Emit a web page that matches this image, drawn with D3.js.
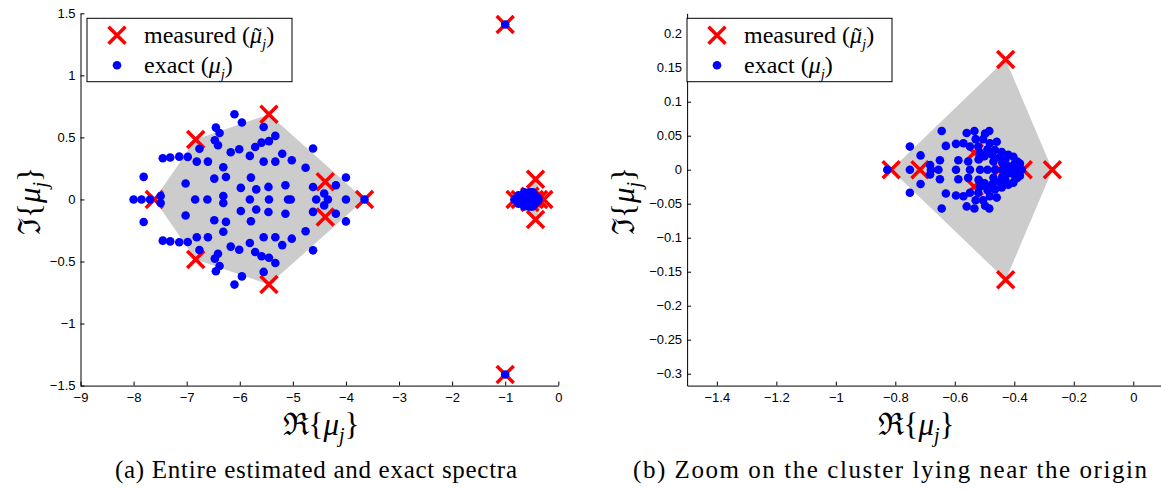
<!DOCTYPE html>
<html lang="en">
<head>
<meta charset="utf-8">
<title>Spectra</title>
<script src="https://d3js.org/d3.v7.min.js"></script>
<style>
  body { margin: 0; background: #fff; }
  .tick text { font-family: "Liberation Sans", Arial, sans-serif; font-size: 13px; fill: #000; }
  .serif { font-family: "Liberation Serif", "Times New Roman", serif; fill: #000; }
</style>
</head>
<body>
<script>

// measured eigenvalues, [re, im]
var measuredFar = [[-5.45, 0.686], [-5.45, -0.686], [-6.83, 0.483], [-6.83, -0.483],
  [-7.61, 0], [-4.39, 0.142], [-4.39, -0.142], [-3.65, 0]];
var measuredOutliers = [[-1.0, 1.41], [-1.0, -1.41]];
var measuredNear = [[-0.814, 0], [-0.717, 0], [-0.429, 0.162], [-0.429, -0.162], [-0.272, 0],
  [-0.37, 0], [-0.535, 0.025], [-0.535, -0.025], [-0.45, 0]];

// exact eigenvalues, [re, im]
var exactFar = [
  [-6.10, 0.686], [-5.96, 0.62], [-5.55, 0.584], [-6.45, 0.579], [-6.38, 0.536], [-6.47, 0.477],
  [-6.41, 0.437], [-6.76, 0.408], [-5.33, 0.512], [-5.45, 0.47], [-5.59, 0.458], [-5.71, 0.423],
  [-5.81, 0.351], [-6.01, 0.405], [-6.17, 0.38], [-5.55, 0.305], [-5.33, 0.305], [-5.20, 0.368],
  [-5.02, 0.316], [-4.76, 0.256], [-4.62, 0.41], [-7.45, 0.332], [-7.31, 0.338], [-7.14, 0.345],
  [-6.98, 0.343], [-6.81, 0.305], [-6.60, 0.305], [-6.31, 0.26], [-6.26, 0.181], [-6.48, 0.168],
  [-7.02, 0.129], [-7.81, 0.182], [-5.79, 0.176], [-5.98, 0.093], [-5.69, 0.081], [-5.46, 0.101],
  [-5.14, 0.115], [-4.62, 0.10], [-4.41, 0.048], [-4.19, 0.115], [-4.0, 0.177], [-7.49, 0.028],
  [-6.31, 0.028],
  [-6.10, -0.686], [-5.96, -0.62], [-5.55, -0.584], [-6.45, -0.579], [-6.38, -0.536], [-6.47, -0.477],
  [-6.41, -0.437], [-6.76, -0.408], [-5.33, -0.512], [-5.45, -0.47], [-5.59, -0.458], [-5.71, -0.423],
  [-5.81, -0.351], [-6.01, -0.405], [-6.17, -0.38], [-5.55, -0.305], [-5.33, -0.305], [-5.20, -0.368],
  [-5.02, -0.316], [-4.76, -0.256], [-4.62, -0.41], [-7.45, -0.332], [-7.31, -0.338], [-7.14, -0.345],
  [-6.98, -0.343], [-6.81, -0.305], [-6.60, -0.305], [-6.31, -0.26], [-6.26, -0.181], [-6.48, -0.168],
  [-7.02, -0.129], [-7.81, -0.182], [-5.79, -0.176], [-5.98, -0.093], [-5.69, -0.081], [-5.46, -0.101],
  [-5.14, -0.115], [-4.62, -0.10], [-4.41, -0.048], [-4.19, -0.115], [-4.0, -0.177], [-7.49, -0.028],
  [-6.31, -0.028],
  [-8.0, 0], [-7.85, 0], [-7.69, 0], [-6.84, 0], [-6.61, 0], [-5.81, 0], [-5.45, 0], [-5.09, 0],
  [-5.04, 0], [-4.56, 0], [-4.34, 0], [-4.0, 0], [-3.65, 0]
];
var exactOutliers = [[-1.0, 1.41], [-1.0, -1.41]];
var exactNear = [
  [-0.751, 0.034], [-0.715, 0.021], [-0.683, 0.007], [-0.65, 0.014], [-0.644, 0.057], [-0.63, 0.035],
  [-0.596, 0.038], [-0.588, 0.014], [-0.571, 0.039], [-0.56, 0.054], [-0.534, 0.057], [-0.549, 0.034],
  [-0.521, 0.034], [-0.555, 0.012], [-0.52, 0.015], [-0.498, 0.053], [-0.484, 0.057], [-0.482, 0.039],
  [-0.465, 0.029], [-0.459, 0.041], [-0.442, 0.026], [-0.42, 0.022], [-0.403, 0.019], [-0.381, 0.009],
  [-0.44, 0.01], [-0.42, 0.005], [-0.50, 0.02], [-0.47, 0.012], [-0.45, 0.018], [-0.53, 0.045],
  [-0.505, 0.045], [-0.49, 0.03], [-0.515, 0.025], [-0.475, 0.022], [-0.43, 0.015], [-0.40, 0.008],
  [-0.39, 0.012],
  [-0.751, -0.034], [-0.715, -0.021], [-0.683, -0.007], [-0.65, -0.014], [-0.644, -0.057], [-0.63, -0.035],
  [-0.596, -0.038], [-0.588, -0.014], [-0.571, -0.039], [-0.56, -0.054], [-0.534, -0.057], [-0.549, -0.034],
  [-0.521, -0.034], [-0.555, -0.012], [-0.52, -0.015], [-0.498, -0.053], [-0.484, -0.057], [-0.482, -0.039],
  [-0.465, -0.029], [-0.459, -0.041], [-0.442, -0.026], [-0.42, -0.022], [-0.403, -0.019], [-0.381, -0.009],
  [-0.44, -0.01], [-0.42, -0.005], [-0.50, -0.02], [-0.47, -0.012], [-0.45, -0.018], [-0.53, -0.045],
  [-0.505, -0.045], [-0.49, -0.03], [-0.515, -0.025], [-0.475, -0.022], [-0.43, -0.015], [-0.40, -0.008],
  [-0.39, -0.012],
  [-0.827, 0], [-0.751, 0], [-0.68, 0], [-0.655, 0], [-0.596, 0], [-0.549, 0], [-0.515, 0], [-0.49, 0],
  [-0.465, 0], [-0.44, 0], [-0.41, 0], [-0.39, 0], [-0.375, 0]
];

// tick values
var ticksAx = [-9, -8, -7, -6, -5, -4, -3, -2, -1, 0];
var ticksAy = [-1.5, -1, -0.5, 0, 0.5, 1, 1.5];
var ticksBx = [-1.4, -1.2, -1, -0.8, -0.6, -0.4, -0.2, 0];
var ticksBy = [-0.3, -0.25, -0.2, -0.15, -0.1, -0.05, 0, 0.05, 0.1, 0.15, 0.2];

var captions = ["(a) Entire estimated and exact spectra", "(b) Zoom on the cluster lying near the origin"];

var W = 1161, H = 492;
var svg = d3.select("body").append("svg").attr("width", W).attr("height", H);

var allMeasured = measuredFar.concat(measuredOutliers, measuredNear);
var allExact = exactFar.concat(exactOutliers, exactNear);
var hulls = [d3.polygonHull(measuredFar), d3.polygonHull(measuredNear)];

var panels = [
  {id: "a", xd: [-9, 0], xr: [80.5, 558.3], yd: [-1.5, 1.5], yr: [385.6, 13.3],
   xt: ticksAx, yt: ticksAy, legX: 87, cap: captions[0], capX: 316, capW: 402, xlabX: 321, ylabX: 30},
  {id: "b", xd: [-1.5, 0.1], xr: [687.1, 1163], yd: [-0.3175, 0.23], yr: [385.6, 13.3],
   xt: ticksBx, yt: ticksBy, legX: 687, cap: captions[1], capX: 890, capW: 514, xlabX: 916, ylabX: 624}
];

var fmt = d3.format("");
var s = 8.5;
var crossPath = "M" + (-s) + "," + (-s) + "L" + s + "," + s + "M" + (-s) + "," + s + "L" + s + "," + (-s);

// width of a string in the serif font
function textWidth(str, size, italic) {
  var t = svg.append("text").attr("class", "serif").style("font-size", size + "px")
    .style("font-style", italic ? "italic" : "normal").text(str);
  var w = t.node().getComputedTextLength();
  t.remove();
  return w;
}

// math-ish label: prefix + italic mu (optional tilde) + subscript j + suffix
function mathText(sel, prefix, tilde, size, sub, suffix) {
  var drop = size * 0.22;
  sel.append("tspan").text(prefix);
  sel.append("tspan").style("font-style", "italic").text("\u03BC");
  var jdx = 0;
  if (tilde) {
    var wMu = textWidth("\u03BC", size, true);
    var wT = textWidth("\u02DC", size, false);
    sel.append("tspan").attr("dx", -(wMu + wT) / 2 + 1.5).attr("dy", 1).text("\u02DC");
    jdx = (wMu - wT) / 2 - 1.5;
    drop -= 1;
  }
  sel.append("tspan").style("font-style", "italic").style("font-size", sub + "px")
    .attr("dx", jdx).attr("dy", drop).text("j");
  sel.append("tspan").attr("dy", -size * 0.22).text(suffix);
}

panels.forEach(function(p) {
  var x = d3.scaleLinear().domain(p.xd).range(p.xr);
  var y = d3.scaleLinear().domain(p.yd).range(p.yr);

  svg.append("clipPath").attr("id", "clip-" + p.id)
    .append("rect")
    .attr("x", p.xr[0]).attr("y", p.yr[1])
    .attr("width", p.xr[1] - p.xr[0]).attr("height", p.yr[0] - p.yr[1]);

  var g = svg.append("g").attr("clip-path", "url(#clip-" + p.id + ")");

  // gray hulls
  g.selectAll("path.hull")
    .data(hulls)
    .enter()
    .append("path")
    .attr("class", "hull")
    .attr("d", function(h) {
      return "M" + h.map(function(d) { return x(d[0]) + "," + y(d[1]); }).join("L") + "Z";
    })
    .attr("fill", "#cccccc");

  // measured crosses
  g.selectAll("path.cross")
    .data(allMeasured)
    .enter()
    .append("path")
    .attr("class", "cross")
    .attr("transform", function(d) { return "translate(" + x(d[0]) + "," + y(d[1]) + ")"; })
    .attr("d", crossPath)
    .attr("stroke", "#ff0000")
    .attr("stroke-width", 3.5)
    .attr("fill", "none");

  // exact points
  g.selectAll("circle")
    .data(allExact)
    .enter()
    .append("circle")
    .attr("cx", function(d) { return x(d[0]); })
    .attr("cy", function(d) { return y(d[1]); })
    .attr("r", 4.3)
    .attr("fill", "#0000ff");

  // axes
  var ax = svg.append("g")
    .attr("transform", "translate(0," + p.yr[0] + ")")
    .call(d3.axisBottom(x).tickValues(p.xt).tickFormat(fmt).tickSizeInner(-4).tickSizeOuter(0).tickPadding(7));
  ax.select(".domain").attr("stroke", "#000");

  var ay = svg.append("g")
    .attr("transform", "translate(" + p.xr[0] + ",0)")
    .call(d3.axisLeft(y).tickValues(p.yt).tickFormat(fmt).tickSizeInner(-4).tickSizeOuter(0).tickPadding(5));
  ay.select(".domain").attr("stroke", "#000");

  // axis labels
  var xl = svg.append("text").attr("class", "serif")
    .attr("x", p.xlabX).attr("y", 435)
    .attr("text-anchor", "middle")
    .style("font-size", "31px");
  mathText(xl, "\u211C{", false, 31, 20, "}");

  var yl = svg.append("text").attr("class", "serif")
    .attr("transform", "translate(" + (p.ylabX + 10) + ",201) rotate(-90)")
    .attr("text-anchor", "middle")
    .style("font-size", "31px");
  mathText(yl, "\u2111{", false, 31, 20, "}");

  // legend
  var lg = svg.append("g").attr("transform", "translate(" + p.legX + ",18.3)");
  lg.append("rect").attr("width", 205).attr("height", 63.4)
    .attr("fill", "#fff").attr("stroke", "#000").attr("stroke-width", 1);
  lg.append("path").attr("d", crossPath).attr("transform", "translate(30,17)")
    .attr("stroke", "#ff0000").attr("stroke-width", 3.5).attr("fill", "none");
  lg.append("circle").attr("cx", 30).attr("cy", 47).attr("r", 4.3).attr("fill", "#0000ff");

  var t1 = lg.append("text").attr("class", "serif").attr("x", 57).attr("y", 25).style("font-size", "24px");
  mathText(t1, "measured (", true, 24, 15, ")");

  var t2 = lg.append("text").attr("class", "serif").attr("x", 57).attr("y", 55).style("font-size", "24px");
  mathText(t2, "exact (", false, 24, 15, ")");

  // caption
  svg.append("text").attr("class", "serif")
    .attr("x", p.capX).attr("y", 478)
    .attr("text-anchor", "middle")
    .attr("textLength", p.capW)
    .attr("lengthAdjust", "spacing")
    .style("font-size", "25px")
    .text(p.cap);
});

</script>
</body>
</html>
